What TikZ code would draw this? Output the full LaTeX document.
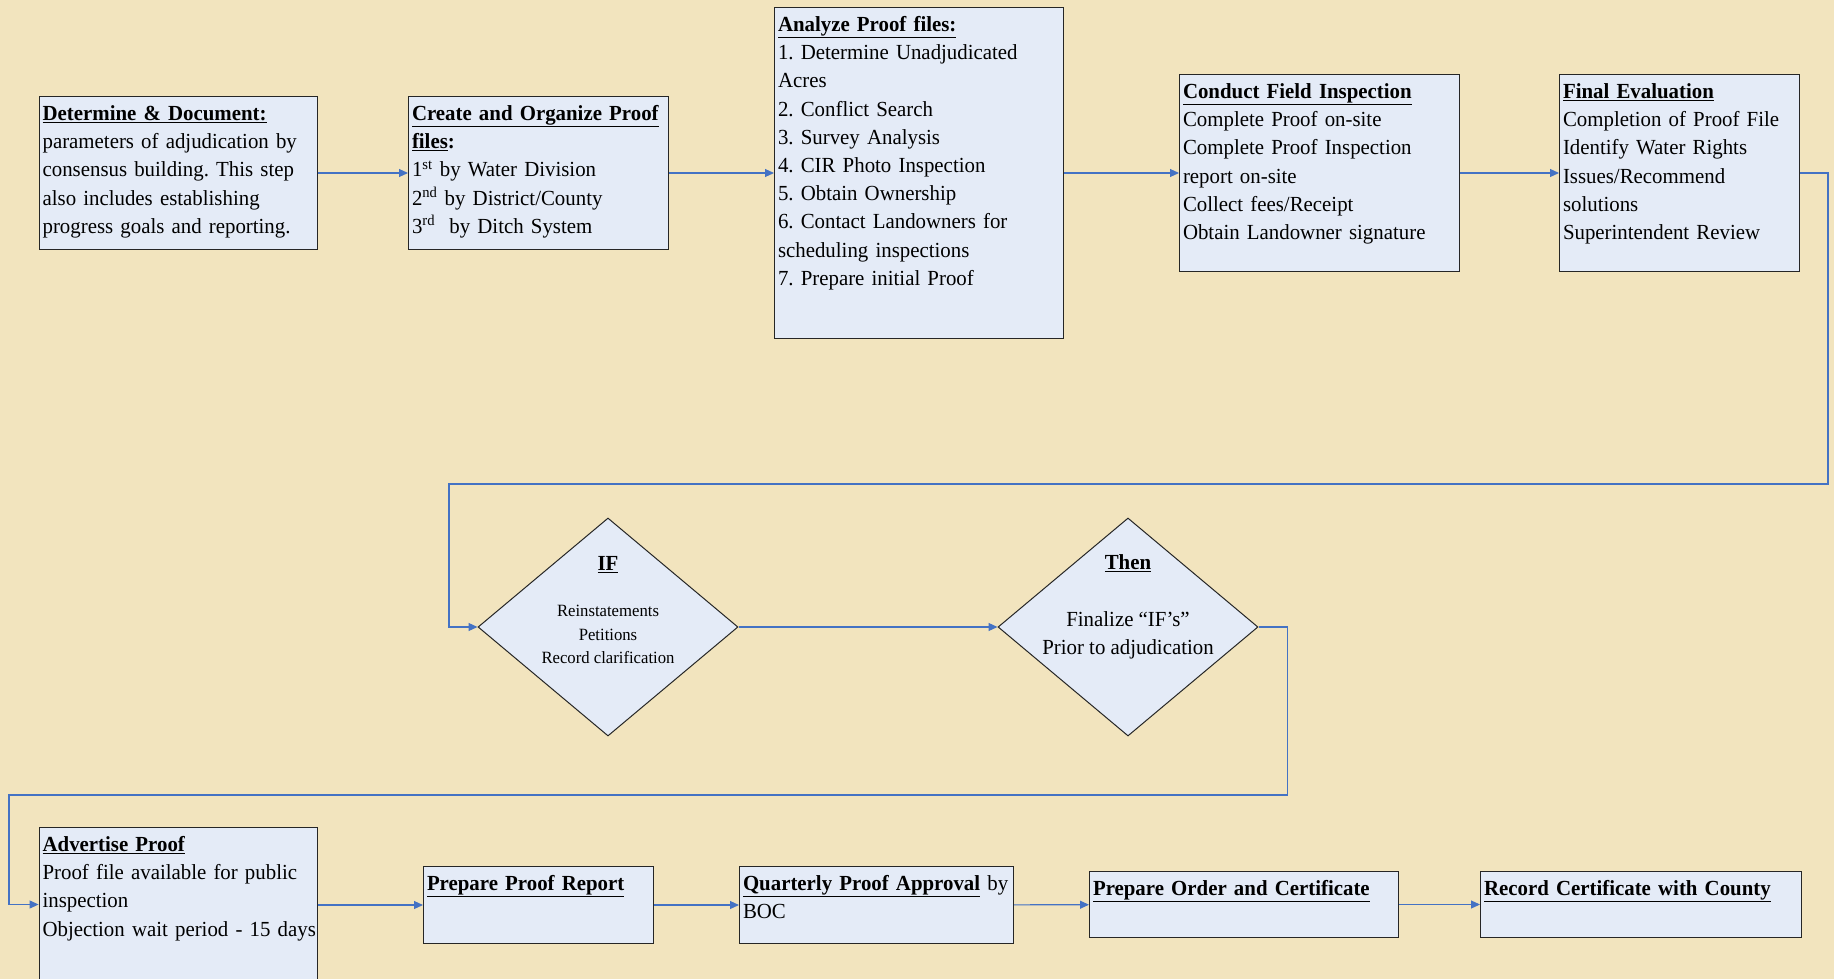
\documentclass[tikz,border=0pt]{standalone}
\usepackage{fontspec}
\setmainfont[FakeStretch=0.97]{Liberation Serif}
\usepackage{xcolor}
\usetikzlibrary{arrows.meta}
\usetikzlibrary{shapes.geometric}
\frenchspacing

\definecolor{paper}{RGB}{242,228,190}
\definecolor{boxfill}{RGB}{228,235,247}
\definecolor{flowblue}{RGB}{68,114,196}

\newcommand{\hd}[1]{\underline{\textbf{#1}}}

\tikzset{
  procbox/.style={draw=black!85, line width=1pt, fill=boxfill, anchor=north west,
    align=left, inner xsep=3.5pt, inner ysep=0pt, text height=24pt,
    font=\fontsize{21.5}{28.2}\selectfont},
  decision/.style={diamond, draw=black!85, line width=1pt, fill=boxfill,
    minimum width=260pt, minimum height=218pt, inner sep=0pt},
  dectext/.style={align=center, font=\fontsize{21.5}{28.2}\selectfont},
  flow/.style={draw=flowblue, line width=1.1pt, -{Triangle[length=9pt,width=8pt]}}
}

\begin{document}
\begin{tikzpicture}[x=1pt,y=-1pt]

	\fill[paper] (0,0) rectangle (1834,979);
	\useasboundingbox (0,0) rectangle (1834,979);

	\node[procbox, text width=271pt, text depth=129pt](det) at (38.6,96)
	{\hd{Determine \& Document:}\\ parameters of adjudication by\\ consensus building. This step\\ also includes establishing\\ progress goals and reporting.};
	\node[procbox, text width=253pt, text depth=129pt](create) at (408,96)
	{\hd{Create and Organize Proof}\\ \hd{files}\textbf{:}\\ 1\textsuperscript{st} by Water Division\\ 2\textsuperscript{nd} by District/County\\ 3\textsuperscript{rd}\ \ by Ditch System};
	\node[procbox, text width=282pt, text depth=307pt](analyze) at (774,7)
	{\hd{Analyze Proof files:}\\ 1. Determine Unadjudicated\\ Acres\\ 2. Conflict Search\\ 3. Survey Analysis\\ 4. CIR Photo Inspection\\ 5. Obtain Ownership\\ 6. Contact Landowners for\\ scheduling inspections\\ 7. Prepare initial Proof};
	\node[procbox, text width=273pt, text depth=173pt](field) at (1179,74)
	{\hd{Conduct Field Inspection}\\ Complete Proof on-site\\ Complete Proof Inspection\\ report on-site\\ Collect fees/Receipt\\ Obtain Landowner signature};
	\node[procbox, text width=233pt, text depth=173pt](final) at (1559,74)
	{\hd{Final Evaluation}\\ Completion of Proof File\\ Identify Water Rights\\ Issues/Recommend\\ solutions\\ Superintendent Review};

	\node[decision](ifdec) at (608,627){};
	\node[dectext](iftext) at ([yshift=17pt]ifdec.center)
	{\hd{IF}\\[18pt] {\fontsize{17.2}{22.8}\selectfont Reinstatements}\\[-5pt] {\fontsize{17.2}{22.8}\selectfont Petitions}\\[-5pt] {\fontsize{17.2}{22.8}\selectfont Record clarification}};
	\node[decision](thendec) at (1128,627){};
	\node[dectext](thentext) at ([yshift=20pt]thendec.center)
	{\hd{Then}\\[28pt] Finalize “IF’s”\\ Prior to adjudication};

	\node[procbox, text width=271pt, text depth=130pt](advert) at (38.6,827)
	{\hd{Advertise Proof}\\ Proof file available for public\\ inspection\\ \mbox{Objection wait period - 15 days}};
	\node[procbox, text width=223pt, text depth=53pt](report) at (423,866)
	{\hd{Prepare Proof Report}};
	\node[procbox, text width=267pt, text depth=53pt](approval) at (739,866)
	{\hd{Quarterly Proof Approval} by\\ BOC};
	\node[procbox, text width=302pt, text depth=42pt](order) at (1089,871)
	{\hd{Prepare Order and Certificate}};
	\node[procbox, text width=314pt, text depth=42pt](record) at (1480,871)
	{\hd{Record Certificate with County}};

	\coordinate (upturn) at (449,484);
	\coordinate (downturn) at (9,795);

	\draw[flow] (det) -- (create);
	\draw[flow] (create) -- (analyze);
	\draw[flow] (analyze) -- (field);
	\draw[flow] (field) -- (final);
	\draw[flow] (final.east) -- ++(28,0) |- (upturn) |- (ifdec.west);
	\draw[flow] (ifdec) -- (thendec);
	\draw[flow] (thendec.east) -- ++(29,0) |- (downturn) |- (advert.west);
	\draw[flow] (advert.east |- report.west) -- (report);
	\draw[flow] (report) -- (approval);
	\draw[flow] (approval) -- (order);
	\draw[flow] (order) -- (record);

\end{tikzpicture}
\end{document}
